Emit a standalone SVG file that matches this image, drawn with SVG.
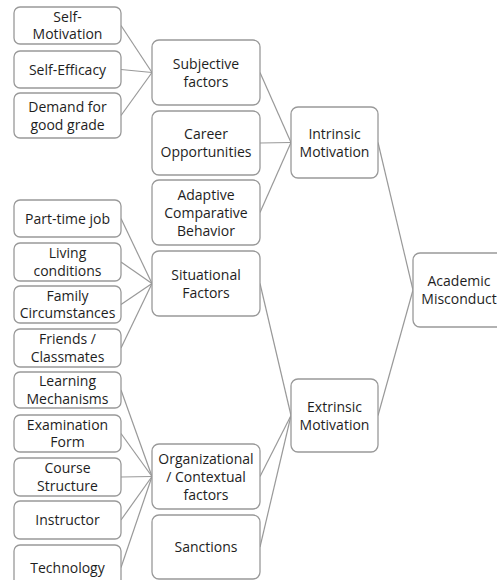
<svg xmlns="http://www.w3.org/2000/svg" width="497" height="580" viewBox="0 0 497 580">
<style>
.b{fill:#fff;stroke:#999;stroke-width:1.3}
.t{font-family:"Open Sans","Liberation Sans",sans-serif;font-size:14px;fill:#1e1e1e;text-anchor:middle}
.c line{stroke:#999;stroke-width:1.2}
</style>
<rect width="497" height="580" fill="#fff"/>
<g class="c" id="connectors">
<line x1="121" y1="25.5" x2="152" y2="72.5"/>
<line x1="121" y1="69.5" x2="152" y2="72.5"/>
<line x1="121" y1="115.5" x2="152" y2="72.5"/>
<line x1="121" y1="218.5" x2="152" y2="283.5"/>
<line x1="121" y1="262" x2="152" y2="283.5"/>
<line x1="121" y1="304.5" x2="152" y2="283.5"/>
<line x1="121" y1="348" x2="152" y2="283.5"/>
<line x1="121" y1="390" x2="152" y2="476.5"/>
<line x1="121" y1="433.5" x2="152" y2="476.5"/>
<line x1="121" y1="477" x2="152" y2="476.5"/>
<line x1="121" y1="520" x2="152" y2="476.5"/>
<line x1="121" y1="567.5" x2="152" y2="476.5"/>
<line x1="260" y1="72.5" x2="291" y2="142.5"/>
<line x1="260" y1="143" x2="291" y2="142.5"/>
<line x1="260" y1="212.5" x2="291" y2="142.5"/>
<line x1="260" y1="283.5" x2="291" y2="415.5"/>
<line x1="260" y1="476.5" x2="291" y2="415.5"/>
<line x1="260" y1="547" x2="291" y2="415.5"/>
<line x1="378" y1="142.5" x2="413" y2="290"/>
<line x1="378" y1="415.5" x2="413" y2="290"/>
</g>
<g id="self-motivation"><rect class="b" x="14" y="7" width="107" height="37" rx="6"/><text class="t" x="67.5" y="21.7">Self-</text><text class="t" x="67.5" y="39.2">Motivation</text></g>
<g id="self-efficacy"><rect class="b" x="14" y="51" width="107" height="37" rx="6"/><text class="t" x="67.5" y="74.5">Self-Efficacy</text></g>
<g id="demand"><rect class="b" x="14" y="93" width="107" height="45" rx="6"/><text class="t" x="67.5" y="111.5">Demand for</text><text class="t" x="67.5" y="129.5">good grade</text></g>
<g id="part-time"><rect class="b" x="14" y="200" width="107" height="37" rx="6"/><text class="t" x="67.5" y="223.5">Part-time job</text></g>
<g id="living"><rect class="b" x="14" y="243" width="107" height="38" rx="6"/><text class="t" x="67.5" y="258">Living</text><text class="t" x="67.5" y="275.5">conditions</text></g>
<g id="family"><rect class="b" x="14" y="286" width="107" height="37" rx="6"/><text class="t" x="67.5" y="300.7">Family</text><text class="t" x="67.5" y="318.2">Circumstances</text></g>
<g id="friends"><rect class="b" x="14" y="329" width="107" height="38" rx="6"/><text class="t" x="67.5" y="344">Friends /</text><text class="t" x="67.5" y="361.5">Classmates</text></g>
<g id="learning"><rect class="b" x="14" y="372" width="107" height="36" rx="6"/><text class="t" x="67.5" y="386.2">Learning</text><text class="t" x="67.5" y="403.7">Mechanisms</text></g>
<g id="examination"><rect class="b" x="14" y="415" width="107" height="37" rx="6"/><text class="t" x="67.5" y="429.7">Examination</text><text class="t" x="67.5" y="447.2">Form</text></g>
<g id="course"><rect class="b" x="14" y="458" width="107" height="38" rx="6"/><text class="t" x="67.5" y="473">Course</text><text class="t" x="67.5" y="490.5">Structure</text></g>
<g id="instructor"><rect class="b" x="14" y="501" width="107" height="38" rx="6"/><text class="t" x="67.5" y="525">Instructor</text></g>
<g id="technology"><rect class="b" x="14" y="545" width="107" height="45" rx="6"/><text class="t" x="67.5" y="572.5">Technology</text></g>
<g id="subjective"><rect class="b" x="152" y="40" width="108" height="65" rx="7"/><text class="t" x="206" y="68.7">Subjective</text><text class="t" x="206" y="86.5">factors</text></g>
<g id="career"><rect class="b" x="152" y="111" width="108" height="64" rx="7"/><text class="t" x="206" y="139">Career</text><text class="t" x="206" y="157">Opportunities</text></g>
<g id="adaptive"><rect class="b" x="152" y="180" width="108" height="65" rx="7"/><text class="t" x="206" y="199.5">Adaptive</text><text class="t" x="206" y="217.5">Comparative</text><text class="t" x="206" y="235.5">Behavior</text></g>
<g id="situational"><rect class="b" x="152" y="251" width="108" height="65" rx="7"/><text class="t" x="206" y="279.5">Situational</text><text class="t" x="206" y="297.5">Factors</text></g>
<g id="organizational"><rect class="b" x="152" y="444" width="108" height="65" rx="7"/><text class="t" x="206" y="463.5">Organizational</text><text class="t" x="206" y="481.5">/ Contextual</text><text class="t" x="206" y="499.5">factors</text></g>
<g id="sanctions"><rect class="b" x="152" y="515" width="108" height="64" rx="7"/><text class="t" x="206" y="552">Sanctions</text></g>
<g id="intrinsic"><rect class="b" x="291" y="107" width="87" height="71" rx="7"/><text class="t" x="334.5" y="138.5">Intrinsic</text><text class="t" x="334.5" y="156.5">Motivation</text></g>
<g id="extrinsic"><rect class="b" x="291" y="379" width="87" height="73" rx="7"/><text class="t" x="334.5" y="411.5">Extrinsic</text><text class="t" x="334.5" y="429.5">Motivation</text></g>
<g id="academic"><rect class="b" x="413" y="253" width="95" height="74" rx="7"/><text class="t" x="459" y="286">Academic</text><text class="t" x="459" y="304">Misconduct</text></g>
</svg>
